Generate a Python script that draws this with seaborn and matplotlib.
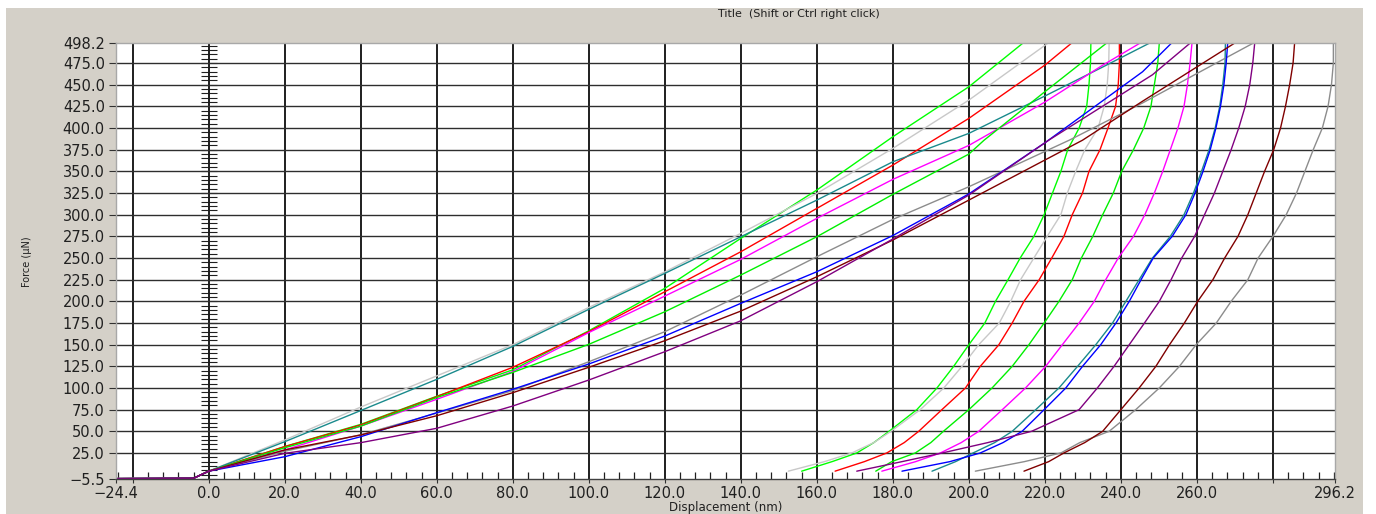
import numpy as np
import pandas as pd
import matplotlib
matplotlib.use("Agg")
import matplotlib.pyplot as plt
import seaborn as sns
from matplotlib.ticker import MultipleLocator, FixedLocator, FixedFormatter, NullLocator
from matplotlib.patches import Rectangle

# ---------------- data ----------------
curve_names = ["green1", "lightgray", "red", "teal", "magenta",
               "green2", "darkgray", "blue", "brown", "purple"]
curve_colors = ["#00ff00", "#c8c8c8", "#ff0000", "#1a8a8c", "#ff00ff",
                "#00f000", "#8c8c8c", "#0000ff", "#800000", "#800080"]

# loading branch: displacement (nm) grid shared by all curves
load_x = [-24.4, -4.0, 0.0, 20, 40, 60, 80, 100, 120, 140, 160, 180, 200]

green1_load_p = [-4.6, -4.2, 4, 32.5, 58, 90.5, 121, 166, 215, 272.7, 328.5, 390, 447.7]
lightgray_load_p = [-4.6, -4.2, 4, 40, 78, 114, 150, 193, 234, 278.5, 324.6, 376.6, 432.3]
red_load_p = [-4.6, -4.2, 4, 32.3, 57.3, 90, 123.9, 165, 211.1, 257.3, 307.3, 357.3, 411.2]
teal_load_p = [-4.6, -4.2, 4, 38, 74, 110, 148, 190.8, 232.3, 274.6, 316.9, 361.1, 393.9]
magenta_load_p = [-4.6, -4.2, 4, 28.5, 56, 87, 119, 164, 206.1, 248.5, 295.8, 340.8, 380]
green2_load_p = [-4.6, -4.2, 4, 31, 56, 89, 118, 150.4, 188, 230.4, 274.6, 323.5, 370]
darkgray_load_p = [-4.6, -4.2, 4, 27, 46, 71, 97, 130.3, 165, 207.3, 251.5, 294.6, 332.3]
blue_load_p = [-4.6, -4.2, 4, 20.7, 43.8, 71.5, 98.5, 127.7, 160, 197.7, 234.2, 276, 324]
brown_load_p = [-4.6, -4.2, 4, 28.5, 45.8, 68, 94.6, 123.9, 154.6, 188.8, 228.4, 270.8, 316.9]
purple_load_p = [-4.6, -4.2, 4, 24.6, 36.9, 53.5, 79.2, 109.2, 141.9, 177.6, 222.7, 272, 322.7]

# end of loading branch (beyond 200 nm) up to peak load
green1_top_x, green1_top_p = [214.2], [498]
lightgray_top_x, lightgray_top_p = [220.8], [498]
red_top_x, red_top_p = [220, 227], [472.7, 498]
teal_top_x, teal_top_p = [220, 235, 247.5], [437, 470, 498]
magenta_top_x, magenta_top_p = [220, 235, 245], [430, 472, 498]
green2_top_x, green2_top_p = [204, 220, 236.2], [386, 442, 498]
darkgray_top_x, darkgray_top_p = [220, 226.4, 245.7, 260, 274.8], [373, 386, 429, 463, 498]
blue_top_x, blue_top_p = [220, 245.7, 253.3], [383, 465, 498]
brown_top_x, brown_top_p = [229.9, 245.7, 269.9], [386, 431, 498]
purple_top_x, purple_top_p = [221, 248.3, 258.2], [386, 461.5, 498]

# unloading branch: force levels (uN) shared by all curves
unload_p = [498, 475, 450, 425, 400, 375, 350, 325, 300, 275, 250, 225,
            200, 175, 150, 125, 100, 75, 50, 37, 25, 15, 4]

green1_unload_x = [232.1, 232.0, 231.6, 231.0, 229.0, 226.0, 224.2, 222.0, 219.8, 217.1, 213.5, 210.3,
                   207.0, 204.2, 200.0, 196.0, 191.6, 186.3, 179.0, 175.0, 170.5, 164.0, 156.0]
lightgray_unload_x = [236.9, 236.8, 236.4, 235.6, 234.0, 230.5, 228.1, 225.9, 224.2, 220.6, 217.1, 213.6,
                      211.0, 208.0, 202.6, 198.2, 193.4, 187.2, 179.5, 175.0, 169.2, 162.0, 152.5]
red_unload_x = [239.6, 239.6, 239.3, 238.6, 236.6, 234.5, 231.6, 229.9, 227.2, 225.0, 221.8, 218.5,
                214.5, 211.4, 207.9, 203.0, 199.1, 192.9, 186.8, 183.0, 178.4, 172.5, 164.8]
teal_unload_x = [267.5, 267.4, 266.8, 266.0, 264.8, 263.2, 261.2, 259.1, 256.6, 253.0, 248.3, 244.8,
                 241.3, 237.8, 233.4, 228.6, 223.7, 217.6, 211.4, 206.8, 201.1, 196.5, 190.3]
magenta_unload_x = [258.7, 258.2, 257.5, 256.6, 255.0, 253.0, 251.0, 248.8, 246.3, 243.3, 239.3, 236.0,
                    233.0, 229.0, 224.6, 220.2, 214.9, 208.8, 202.6, 198.0, 192.5, 186.0, 177.1]
green2_unload_x = [250.1, 249.7, 248.8, 247.9, 246.0, 243.3, 240.2, 238.0, 235.2, 232.6, 229.6, 227.2,
                   223.7, 219.8, 215.8, 211.4, 206.1, 200.0, 193.3, 190.0, 185.9, 179.7, 175.5]
darkgray_unload_x = [295.9, 295.9, 295.4, 294.5, 293.0, 290.6, 288.4, 286.2, 283.5, 280.0, 276.1, 273.4,
                     269.0, 265.1, 259.8, 255.4, 250.1, 243.9, 236.9, 229.2, 224.2, 214.6, 201.7]
blue_unload_x = [268.1, 267.7, 267.1, 266.2, 265.0, 263.5, 261.6, 259.5, 257.1, 253.5, 248.5, 245.3,
                 242.2, 238.7, 234.7, 229.9, 225.5, 219.8, 214.0, 209.0, 203.0, 195.0, 182.4]
brown_unload_x = [285.7, 285.3, 284.4, 283.3, 282.0, 280.2, 277.8, 275.6, 273.4, 270.8, 267.3, 264.2,
                  260.2, 256.7, 252.8, 249.2, 244.8, 240.0, 235.2, 230.5, 225.0, 221.0, 214.5]
purple_unload_x = [275.2, 274.7, 273.9, 272.7, 271.0, 269.0, 266.8, 264.6, 262.0, 259.4, 256.0, 253.2,
                   250.1, 246.2, 242.2, 238.2, 233.8, 229.0, 216.5, 205.0, 193.0, 182.4, 170.5]

x_tick_values = [-24.4, -20, 0, 20, 40, 60, 80, 100, 120, 140, 160, 180, 200, 220, 240, 260, 280, 296.2]
x_tick_labels = ["\u221224.4", "", "0.0", "20.0", "40.0", "60.0", "80.0", "100.0", "120.0", "140.0",
                 "160.0", "180.0", "200.0", "220.0", "240.0", "260.0", "", "296.2"]
y_tick_values = [-5.5, 25, 50, 75, 100, 125, 150, 175, 200, 225, 250, 275, 300, 325, 350,
                 375, 400, 425, 450, 475, 498.2]
y_tick_labels = ["\u22125.5", "25.0", "50.0", "75.0", "100.0", "125.0", "150.0", "175.0", "200.0",
                 "225.0", "250.0", "275.0", "300.0", "325.0", "350.0", "375.0", "400.0", "425.0",
                 "450.0", "475.0", "498.2"]

# ---------------- assemble long-form table ----------------
load_ps = [green1_load_p, lightgray_load_p, red_load_p, teal_load_p, magenta_load_p,
           green2_load_p, darkgray_load_p, blue_load_p, brown_load_p, purple_load_p]
tops = [(green1_top_x, green1_top_p), (lightgray_top_x, lightgray_top_p), (red_top_x, red_top_p),
        (teal_top_x, teal_top_p), (magenta_top_x, magenta_top_p), (green2_top_x, green2_top_p),
        (darkgray_top_x, darkgray_top_p), (blue_top_x, blue_top_p), (brown_top_x, brown_top_p),
        (purple_top_x, purple_top_p)]
unload_xs = [green1_unload_x, lightgray_unload_x, red_unload_x, teal_unload_x, magenta_unload_x,
             green2_unload_x, darkgray_unload_x, blue_unload_x, brown_unload_x, purple_unload_x]

frames = []
for name, lp, (tx, tp), ux in zip(curve_names, load_ps, tops, unload_xs):
    xs = list(load_x) + list(tx) + list(ux)
    ps = list(lp) + list(tp) + list(unload_p)
    frames.append(pd.DataFrame({"Displacement": xs, "Force": ps, "curve": name}))
df = pd.concat(frames, ignore_index=True)
palette = dict(zip(curve_names, curve_colors))

# ---------------- figure ----------------
sns.set_style("white")
plt.rcParams["font.family"] = ["DejaVu Sans"]

W, H = 1376, 514
fig = plt.figure(figsize=(W / 100, H / 100), dpi=100, facecolor="white")
fig.patches.append(Rectangle((6 / W, 0), 1357 / W, (H - 8) / H, transform=fig.transFigure,
                             facecolor="#d4d0c8", edgecolor="none", zorder=-10))

left, right, top, bottom = 116, 1334.5, 43, 479.4
ax = fig.add_axes([left / W, 1 - bottom / H, (right - left) / W, (bottom - top) / H])
ax.set_facecolor("white")

sns.lineplot(data=df, x="Displacement", y="Force", hue="curve", palette=palette,
             sort=False, estimator=None, legend=False, linewidth=1.0, ax=ax)

ax.set_xlim(-24.4, 296.2)
ax.set_ylim(-5.5, 498.2)

ax.xaxis.set_major_locator(FixedLocator(x_tick_values))
ax.xaxis.set_major_formatter(FixedFormatter(x_tick_labels))
ax.xaxis.set_minor_locator(MultipleLocator(4))
ax.yaxis.set_major_locator(FixedLocator(y_tick_values))
ax.yaxis.set_major_formatter(FixedFormatter(y_tick_labels))

ax.set_axisbelow(True)
ax.grid(True, which="major", axis="x", color="#1e1e1e", linewidth=1.4)
ax.grid(True, which="major", axis="y", color="#2e2e2e", linewidth=1.0)
xg = ax.get_xgridlines()
xg[0].set_visible(False)
xg[-1].set_visible(False)
yg = ax.get_ygridlines()
yg[0].set_visible(False)
yg[-1].set_visible(False)

ax.tick_params(axis="x", which="major", bottom=True, direction="out", length=3, width=0.8,
               color="#303030", labelsize=10.5, labelcolor="#202020", pad=2)
ax.tick_params(axis="x", which="minor", bottom=True, direction="in", length=5, width=0.9,
               color="#202020")
ax.tick_params(axis="y", which="major", left=True, direction="out", length=5, width=0.8,
               color="#303030", labelsize=10.5, labelcolor="#202020", pad=3)

for s in ["left", "top", "right"]:
    ax.spines[s].set_color("#a8a8a8")
    ax.spines[s].set_linewidth(1.0)
ax.spines["bottom"].set_color("#404040")
ax.spines["bottom"].set_linewidth(1.0)

# minor force ticks along the zero-displacement line
sec = ax.secondary_yaxis((0 - (-24.4)) / (296.2 + 24.4))
sec.yaxis.set_major_locator(NullLocator())
sec.yaxis.set_minor_locator(MultipleLocator(5))
sec.tick_params(which="minor", left=True, direction="inout", length=11, width=0.8, color="#202020")
sec.spines["left"].set_visible(False)

ax.set_xlabel("Displacement (nm)", fontsize=8.5, color="#202020")
ax.xaxis.set_label_coords(0.5, -(507 - bottom) / (bottom - top))
ax.xaxis.label.set_va("center")
ax.set_ylabel("Force (\u00b5N)", fontsize=7, color="#202020")
ax.yaxis.set_label_coords((27 - left) / (right - left), 0.5)
ax.yaxis.label.set_va("center")

fig.text(799 / W, 1 - 14 / H, "Title  (Shift or Ctrl right click)", ha="center", va="center",
         fontsize=8, color="#202020")

fig.savefig("out.png", dpi=100, facecolor="white")
